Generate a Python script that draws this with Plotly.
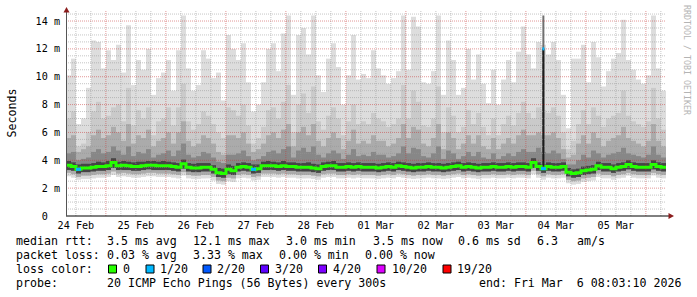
import pandas as pd
import plotly.graph_objects as go

# ---------------- data ----------------
START = pd.Timestamp("2026-02-24 08:03:10")
END = pd.Timestamp("2026-03-06 08:03:10")
BUCKET = pd.Timedelta(hours=2)

# slowest ping per 2-hour bucket (top of the lightest smoke), ms
rtt_max = [
    10.1, 11.3, 6.6, 7.0, 9.2, 12.6, 12.5, 10.6, 11.9, 11.2, 12.3, 10.3, 13.7, 9.4, 11.2, 10.5,
    12.0, 8.7, 9.9, 10.3, 11.2, 9.0, 11.9, 14.4, 10.6, 9.0, 9.4, 11.9, 11.3, 9.9, 10.3, 8.3,
    13.0, 12.0, 11.2, 12.4, 9.6, 7.5, 8.0, 9.6, 12.0, 12.4, 10.4, 13.1, 14.4, 8.7, 13.0, 13.5,
    11.6, 14.4, 10.1, 8.9, 11.3, 12.4, 10.7, 8.0, 10.1, 13.0, 9.8, 10.2, 9.9,
    11.9, 10.6, 10.1, 9.5, 9.9, 10.4, 14.4, 10.5, 14.3, 13.6, 9.6, 9.5, 10.4, 14.4, 8.7,
    12.6, 11.2, 8.7, 9.2, 12.0, 9.8, 11.6, 9.5, 8.1, 10.5, 8.0, 9.8, 11.2, 9.6, 11.8,
    13.6, 11.6, 10.6, 12.5, 12.3, 11.6, 12.5, 11.2, 8.7, 6.3, 11.3, 11.3, 12.3, 9.6, 12.5,
    11.4, 9.3, 10.4, 11.3, 11.7, 14.1, 11.2, 10.5, 9.8, 9.5, 10.1, 14.4, 10.6, 9.0,
]
# 19th of 20 pings
rtt_p19 = [
    7.0, 7.5, 5.0, 5.2, 6.0, 7.5, 8.2, 7.0, 7.2, 7.8, 8.0, 6.8, 9.2, 6.5, 7.6, 7.0,
    7.8, 5.8, 6.8, 7.0, 7.8, 6.5, 7.8, 9.5, 6.8, 6.2, 6.6, 7.5, 7.2, 6.6, 6.0, 5.6,
    7.8, 7.6, 7.2, 8.0, 6.5, 5.2, 5.6, 6.4, 7.6, 7.8, 7.0, 8.2, 9.4, 6.0, 8.0, 8.8,
    7.4, 9.3, 6.8, 6.2, 7.2, 7.8, 7.0, 5.8, 6.8, 8.0, 6.6, 6.8, 6.6,
    7.4, 7.0, 6.8, 6.4, 6.6, 7.0, 9.4, 7.0, 9.0, 8.2, 6.5, 6.4, 7.0, 9.3, 6.0,
    7.8, 7.2, 6.0, 6.4, 7.6, 6.6, 7.4, 6.4, 5.8, 7.0, 5.8, 6.6, 7.2, 6.5, 7.4,
    8.2, 7.4, 7.0, 7.8, 7.6, 7.4, 7.8, 7.2, 6.0, 4.8, 5.4, 6.6, 7.6, 6.6, 7.8,
    7.2, 6.4, 7.0, 7.2, 7.4, 9.0, 7.2, 6.8, 6.6, 6.4, 6.8, 9.2, 7.0, 6.2,
]
# 17th of 20 pings
rtt_p17 = [
    5.6, 5.8, 4.6, 4.8, 5.0, 5.8, 6.2, 5.6, 5.8, 6.4, 6.0, 5.4, 6.6, 5.2, 5.8, 5.6,
    6.2, 5.0, 5.4, 5.6, 6.0, 5.2, 6.0, 6.8, 5.4, 5.0, 5.2, 5.8, 5.6, 5.2, 4.6, 4.4,
    5.8, 5.8, 5.6, 6.0, 5.2, 4.6, 4.8, 5.2, 5.8, 6.0, 5.6, 6.2, 6.6, 5.0, 6.0, 6.4,
    5.8, 6.6, 5.4, 5.0, 5.6, 6.0, 5.6, 4.8, 5.4, 6.2, 5.2, 5.4, 5.2,
    5.8, 5.4, 5.4, 5.0, 5.2, 5.6, 6.6, 5.6, 6.4, 6.2, 5.2, 5.0, 5.6, 6.6, 4.8,
    6.0, 5.6, 4.8, 5.2, 5.8, 5.2, 5.8, 5.0, 4.8, 5.6, 4.8, 5.2, 5.6, 5.2, 5.8,
    6.2, 5.8, 5.8, 6.0, 5.8, 5.8, 6.0, 5.6, 4.8, 4.2, 4.4, 5.2, 5.8, 5.2, 6.0,
    5.6, 5.0, 5.4, 5.6, 5.8, 6.4, 5.6, 5.4, 5.2, 5.0, 5.4, 6.6, 5.4, 5.0,
]
# 15th of 20 pings
rtt_p15 = [
    4.5, 4.6, 4.0, 4.1, 4.2, 4.6, 4.8, 4.5, 4.6, 5.0, 4.7, 4.4, 5.0, 4.3, 4.6, 4.5,
    4.8, 4.2, 4.4, 4.5, 4.7, 4.3, 4.7, 5.2, 4.4, 4.2, 4.3, 4.6, 4.5, 4.2, 3.9, 3.8,
    4.4, 4.4, 4.5, 4.7, 4.3, 4.0, 4.1, 4.3, 4.6, 4.7, 4.5, 4.8, 5.0, 4.2, 4.7, 4.9,
    4.6, 5.0, 4.4, 4.2, 4.5, 4.7, 4.5, 4.1, 4.4, 4.8, 4.3, 4.4, 4.3,
    4.6, 4.4, 4.4, 4.2, 4.3, 4.5, 5.0, 4.5, 4.9, 4.8, 4.3, 4.2, 4.5, 5.0, 4.1,
    4.7, 4.5, 4.1, 4.3, 4.6, 4.3, 4.6, 4.2, 4.1, 4.5, 4.1, 4.3, 4.5, 4.3, 4.6,
    4.8, 4.6, 4.6, 4.9, 4.6, 4.5, 4.7, 4.5, 4.1, 3.7, 3.7, 4.0, 4.4, 4.2, 4.7,
    4.5, 4.2, 4.4, 4.5, 4.6, 4.9, 4.5, 4.4, 4.3, 4.2, 4.4, 5.0, 4.4, 4.2,
]
# 12th of 20 pings (top of the dark core)
rtt_p12 = [
    3.95, 3.85, 3.7, 3.75, 3.75, 3.8, 3.9, 3.85, 3.95, 4.15, 3.9, 3.95, 3.9, 3.85, 3.9, 3.9,
    3.95, 3.95, 3.9, 3.95, 3.9, 3.85, 3.8, 4.05, 3.8, 3.75, 3.8, 3.8, 3.8, 3.65, 3.45, 3.4,
    3.7, 3.6, 3.8, 3.85, 3.8, 3.7, 3.7, 3.9, 3.95, 3.9, 3.85, 3.95, 3.85, 3.85, 3.8, 3.8,
    3.85, 3.75, 3.7, 3.85, 3.9, 3.95, 3.8, 3.8, 3.85, 3.8, 3.85, 3.8, 3.8,
    3.8, 3.75, 3.8, 3.85, 3.8, 3.9, 3.85, 3.8, 3.75, 3.8, 3.8, 3.85, 3.8, 3.8, 3.75,
    3.8, 3.85, 3.9, 3.8, 3.85, 3.8, 3.75, 3.8, 3.8, 3.85, 3.8, 3.8, 3.85, 3.8, 3.85,
    3.85, 3.8, 4.15, 3.85, 3.7, 3.85, 3.8, 3.8, 3.85, 3.45, 3.35, 3.4, 3.55, 3.6, 3.65,
    3.9, 3.8, 3.8, 3.7, 3.8, 3.85, 4.0, 3.85, 3.8, 3.8, 3.8, 4.0, 3.85, 3.8,
]
# median of the 20 pings
rtt_median = [
    3.65, 3.55, 3.35, 3.45, 3.45, 3.5, 3.55, 3.55, 3.6, 3.85, 3.6, 3.65, 3.6, 3.55, 3.55, 3.6,
    3.65, 3.65, 3.6, 3.6, 3.6, 3.55, 3.5, 3.75, 3.5, 3.45, 3.45, 3.5, 3.5, 3.35, 3.1, 3.05,
    3.35, 3.25, 3.5, 3.55, 3.5, 3.35, 3.4, 3.6, 3.6, 3.6, 3.55, 3.6, 3.55, 3.55, 3.5, 3.5,
    3.5, 3.45, 3.4, 3.55, 3.6, 3.6, 3.5, 3.5, 3.55, 3.5, 3.55, 3.5, 3.5,
    3.5, 3.45, 3.5, 3.55, 3.5, 3.6, 3.55, 3.5, 3.45, 3.5, 3.5, 3.55, 3.5, 3.5, 3.45,
    3.5, 3.55, 3.6, 3.5, 3.55, 3.5, 3.45, 3.5, 3.5, 3.55, 3.5, 3.5, 3.55, 3.5, 3.55,
    3.55, 3.5, 3.85, 3.55, 3.4, 3.55, 3.5, 3.5, 3.55, 3.15, 3.05, 3.1, 3.25, 3.3, 3.35,
    3.6, 3.5, 3.5, 3.4, 3.5, 3.55, 3.7, 3.55, 3.5, 3.5, 3.5, 3.7, 3.55, 3.5,
]
# 8th of 20 pings (bottom of the dark core)
rtt_p8 = [
    3.3, 3.25, 3.05, 3.15, 3.15, 3.2, 3.25, 3.25, 3.3, 3.45, 3.3, 3.3, 3.3, 3.25, 3.25, 3.3,
    3.35, 3.3, 3.3, 3.3, 3.3, 3.25, 3.2, 3.4, 3.2, 3.15, 3.15, 3.2, 3.2, 3.05, 2.8, 2.75,
    3.0, 2.95, 3.2, 3.25, 3.2, 3.05, 3.1, 3.3, 3.3, 3.3, 3.25, 3.3, 3.25, 3.25, 3.2, 3.2,
    3.2, 3.15, 3.1, 3.25, 3.3, 3.3, 3.2, 3.2, 3.25, 3.2, 3.25, 3.2, 3.2,
    3.2, 3.15, 3.2, 3.25, 3.2, 3.3, 3.25, 3.2, 3.15, 3.2, 3.2, 3.25, 3.2, 3.2, 3.15,
    3.2, 3.25, 3.3, 3.2, 3.25, 3.2, 3.15, 3.2, 3.2, 3.25, 3.2, 3.2, 3.25, 3.2, 3.25,
    3.25, 3.2, 3.45, 3.25, 3.1, 3.25, 3.2, 3.2, 3.25, 2.85, 2.75, 2.8, 2.95, 3.0, 3.05,
    3.3, 3.2, 3.2, 3.1, 3.2, 3.25, 3.35, 3.25, 3.2, 3.2, 3.2, 3.35, 3.25, 3.2,
]
# 3rd of 20 pings
rtt_p3 = [
    3.1, 3.0, 2.8, 2.9, 2.9, 2.95, 3.0, 3.0, 3.05, 3.2, 3.05, 3.1, 3.05, 3.0, 3.0, 3.05,
    3.1, 3.1, 3.05, 3.05, 3.05, 3.0, 2.95, 3.15, 2.95, 2.9, 2.9, 2.95, 2.95, 2.8, 2.55, 2.5,
    2.75, 2.7, 2.95, 3.0, 2.95, 2.8, 2.85, 3.05, 3.05, 3.05, 3.0, 3.05, 3.0, 3.0, 2.95, 2.95,
    2.95, 2.9, 2.85, 3.0, 3.05, 3.05, 2.95, 2.95, 3.0, 2.95, 3.0, 2.95, 2.95,
    2.95, 2.9, 2.95, 3.0, 2.95, 3.05, 3.0, 2.95, 2.9, 2.95, 2.95, 3.0, 2.95, 2.95, 2.9,
    2.95, 3.0, 3.05, 2.95, 3.0, 2.95, 2.9, 2.95, 2.95, 3.0, 2.95, 2.95, 3.0, 2.95, 3.0,
    3.0, 2.95, 3.25, 3.0, 2.85, 3.0, 2.95, 2.95, 3.0, 2.6, 2.5, 2.55, 2.7, 2.75, 2.8,
    3.05, 2.95, 2.95, 2.85, 2.95, 3.0, 3.1, 3.0, 2.95, 2.95, 2.95, 3.1, 3.0, 2.95,
]
# fastest ping
rtt_min = [
    2.85, 2.75, 2.6, 2.65, 2.65, 2.7, 2.75, 2.75, 2.8, 2.95, 2.8, 2.85, 2.8, 2.75, 2.75, 2.8,
    2.85, 2.85, 2.8, 2.8, 2.8, 2.75, 2.7, 2.9, 2.7, 2.65, 2.65, 2.7, 2.7, 2.55, 2.3, 2.25,
    2.5, 2.45, 2.7, 2.75, 2.7, 2.55, 2.6, 2.8, 2.8, 2.8, 2.75, 2.8, 2.75, 2.75, 2.7, 2.7,
    2.7, 2.65, 2.6, 2.75, 2.8, 2.8, 2.7, 2.7, 2.75, 2.7, 2.75, 2.7, 2.7,
    2.7, 2.65, 2.7, 2.75, 2.7, 2.8, 2.75, 2.7, 2.65, 2.7, 2.7, 2.75, 2.7, 2.7, 2.65,
    2.7, 2.75, 2.8, 2.7, 2.75, 2.7, 2.65, 2.7, 2.7, 2.75, 2.7, 2.7, 2.75, 2.7, 2.75,
    2.75, 2.7, 3.0, 2.75, 2.6, 2.75, 2.7, 2.7, 2.75, 2.35, 2.25, 2.3, 2.45, 2.5, 2.55,
    2.8, 2.7, 2.7, 2.6, 2.7, 2.75, 2.9, 2.75, 2.7, 2.7, 2.7, 2.9, 2.75, 2.7,
]
# buckets with lost pings (bucket index -> pings lost out of 20)
lost_pings = {2: 1, 37: 1, 95: 1}

# short spike on 4 Mar
spike_time = ["2026-03-04 07:00"]
spike_low = [3.6]
spike_median = [12.0]
spike_high = [14.4]
spike_lost = [1]

# legend / statistics
median_avg, median_max, median_min, median_now, median_sd, am_per_s = 3.5, 12.1, 3.0, 3.5, 0.6, 6.3
loss_avg, loss_max, loss_min, loss_now = 0.03, 3.33, 0.00, 0.00
loss_labels = ["0", "1/20", "2/20", "3/20", "4/20", "10/20", "19/20"]
loss_colors = ["#26ff00", "#00b8ff", "#0059ff", "#5e00ff", "#7e00ff", "#dd00ff", "#ff0000"]
loss_counts = [0, 1, 2, 3, 4, 10, 19]

y_ticks = [0, 2, 4, 6, 8, 10, 12, 14]
y_tick_text = ["0\u00a0\u00a0", "2\u00a0m", "4\u00a0m", "6\u00a0m", "8\u00a0m", "10\u00a0m", "12\u00a0m", "14\u00a0m"]
day_labels = ["24 Feb", "25 Feb", "26 Feb", "27 Feb", "28 Feb", "01 Mar", "02 Mar", "03 Mar", "04 Mar", "05 Mar"]

# ---------------- geometry helpers ----------------
W, H = 697, 297
ML, MR, MT, MB = 66, 31, 11, 81
PW, PH = W - ML - MR, H - MT - MB
YMAX = 14.72
MONO = "DejaVu Sans Mono"


def px(x):
    return (x - ML) / PW


def py(y):
    return (MT + PH - y) / PH


n = len(rtt_median)
bucket_start = [START + i * BUCKET for i in range(n)]
bucket_mid = [t + BUCKET / 2 for t in bucket_start]
bucket_edges = bucket_start + [START + n * BUCKET]
bucket_ms = BUCKET / pd.Timedelta(milliseconds=1)

fig = go.Figure()

bands = [
    (rtt_min, rtt_max, "#dddddd"),
    (rtt_p3, rtt_p19, "#cacaca"),
    (rtt_p3, rtt_p17, "#ababab"),
    (rtt_p8, rtt_p15, "#878787"),
    (rtt_p8, rtt_p12, "#454545"),
]
for lo, hi, col in bands:
    fig.add_trace(go.Bar(
        x=bucket_mid, y=[h - l for l, h in zip(lo, hi)], base=lo, width=bucket_ms,
        marker=dict(color=col, line=dict(width=0)), hoverinfo="skip"))

# spike smoke
spike_t = [pd.Timestamp(t) for t in spike_time]
spike_w = pd.Timedelta(minutes=48) / pd.Timedelta(milliseconds=1)
fig.add_trace(go.Bar(x=spike_t, y=[h - l for l, h in zip(spike_low, spike_high)], base=spike_low,
                     width=spike_w, marker=dict(color="#707070", line=dict(width=0)), hoverinfo="skip"))
fig.add_trace(go.Bar(x=spike_t, y=[m - l for l, m in zip(spike_low, spike_median)], base=spike_low,
                     width=spike_w, marker=dict(color="#1c1c1c", line=dict(width=0)), hoverinfo="skip"))

# grid (drawn above the smoke, as rrdtool does)
grid_times = pd.date_range("2026-02-24 12:00", END, freq="6h")
vmin_x, vmin_y, vmaj_x, vmaj_y = [], [], [], []
for t in grid_times:
    if t.hour == 0:
        vmaj_x += [t, t, None]; vmaj_y += [0, YMAX, None]
    else:
        vmin_x += [t, t, None]; vmin_y += [0, YMAX, None]
hmin_x, hmin_y, hmaj_x, hmaj_y = [], [], [], []
for k in range(1, 30):
    v = k * 0.5
    if k % 4 == 0:
        hmaj_x += [START, END, None]; hmaj_y += [v, v, None]
    else:
        hmin_x += [START, END, None]; hmin_y += [v, v, None]
for gx, gy, gc in [(vmin_x, vmin_y, "rgba(150,150,150,0.55)"), (hmin_x, hmin_y, "rgba(150,150,150,0.55)"),
                   (vmaj_x, vmaj_y, "rgba(200,50,50,0.5)"), (hmaj_x, hmaj_y, "rgba(200,50,50,0.5)")]:
    fig.add_trace(go.Scatter(x=gx, y=gy, mode="lines", line=dict(color=gc, width=1, dash="1px,1px"),
                             hoverinfo="skip"))

# median line
fig.add_trace(go.Scatter(x=bucket_edges, y=rtt_median + [rtt_median[-1]], mode="lines",
                         line=dict(color=loss_colors[0], width=3, shape="hv"), hoverinfo="skip"))
for i, lost in lost_pings.items():
    col = loss_colors[loss_counts.index(lost)]
    fig.add_trace(go.Scatter(x=[bucket_edges[i], bucket_edges[i + 1]], y=[rtt_median[i]] * 2, mode="lines",
                             line=dict(color=col, width=3), hoverinfo="skip"))
for t, m, lost in zip(spike_t, spike_median, spike_lost):
    half = pd.Timedelta(minutes=24)
    fig.add_trace(go.Scatter(x=[t - half, t + half], y=[m, m], mode="lines",
                             line=dict(color=loss_colors[loss_counts.index(lost)], width=3), hoverinfo="skip"))

day_noons = [pd.Timestamp("2026-02-24 12:00") + pd.Timedelta(days=k) for k in range(len(day_labels))]

fig.update_layout(
    width=W, height=H, margin=dict(l=ML, r=MR, t=MT, b=MB),
    paper_bgcolor="white", plot_bgcolor="white", barmode="overlay", showlegend=False,
    font=dict(family=MONO, color="black"),
)
fig.update_xaxes(type="date", range=[START, END], showgrid=False, zeroline=False, showline=False,
                 ticks="", tickvals=day_noons, ticktext=day_labels,
                 tickfont=dict(family=MONO, size=10.15, color="black"), ticklabelstandoff=2)
fig.update_yaxes(range=[0, YMAX], showgrid=False, zeroline=False, showline=False, ticks="",
                 tickvals=y_ticks, ticktext=y_tick_text,
                 tickfont=dict(family=MONO, size=10.15, color="black"), ticklabelstandoff=5)

shapes = []
# axes
shapes.append(dict(type="line", xref="paper", yref="paper", x0=px(66), x1=px(669), y0=py(216), y1=py(216),
                   line=dict(color="black", width=1)))
shapes.append(dict(type="line", xref="paper", yref="paper", x0=px(66.5), x1=px(66.5), y0=py(216), y1=py(10),
                   line=dict(color="#555555", width=1)))
# arrows
shapes.append(dict(type="path", xref="paper", yref="paper",
                   path=f"M {px(66.5)} {py(7)} L {px(63.5)} {py(12.5)} L {px(69.5)} {py(12.5)} Z",
                   fillcolor="#8b1c1c", line=dict(width=0)))
shapes.append(dict(type="path", xref="paper", yref="paper",
                   path=f"M {px(674)} {py(216)} L {px(668.5)} {py(213)} L {px(668.5)} {py(219)} Z",
                   fillcolor="#8b1c1c", line=dict(width=0)))

annotations = []


def text_at(x, y, s, size=11.6, color="black", angle=0, xanchor="left"):
    annotations.append(dict(xref="paper", yref="paper", x=px(x), y=py(y), text=s.replace(" ", "\u00a0"),
                            showarrow=False, xanchor=xanchor, yanchor="middle", textangle=angle,
                            borderpad=0, borderwidth=0,
                            font=dict(family=MONO, size=size, color=color)))


LINE_Y = [240.5, 255.0, 268.8, 283.2]
text_at(16, LINE_Y[0], "median rtt:")
text_at(107, LINE_Y[0], f"{median_avg:.1f} ms avg")
text_at(193, LINE_Y[0], f"{median_max:.1f} ms max")
text_at(286, LINE_Y[0], f"{median_min:.1f} ms min")
text_at(373, LINE_Y[0], f"{median_now:.1f} ms now")
text_at(458, LINE_Y[0], f"{median_sd:.1f} ms sd")
text_at(537, LINE_Y[0], f"{am_per_s:.1f}")
text_at(577, LINE_Y[0], "am/s")
text_at(16, LINE_Y[1], "packet loss:")
text_at(107, LINE_Y[1], f"{loss_avg:.2f} % avg")
text_at(193, LINE_Y[1], f"{loss_max:.2f} % max")
text_at(279, LINE_Y[1], f"{loss_min:.2f} % min")
text_at(365, LINE_Y[1], f"{loss_now:.2f} % now")
text_at(16, LINE_Y[2], "loss color:")
sq_x = [108.5, 146, 203, 260.5, 318.5, 377, 443]
lab_x = [123, 160, 217, 274.5, 332.5, 391.5, 457]
for sx, lx, lab, col in zip(sq_x, lab_x, loss_labels, loss_colors):
    shapes.append(dict(type="rect", xref="paper", yref="paper", x0=px(sx), x1=px(sx + 8), y0=py(273), y1=py(265),
                       fillcolor=col, line=dict(color="black", width=1)))
    text_at(lx, LINE_Y[2], lab)
text_at(16, LINE_Y[3], "probe:")
text_at(107, LINE_Y[3], "20 ICMP Echo Pings (56 Bytes) every 300s")
text_at(478.5, LINE_Y[3], "end: Fri Mar  6 08:03:10 2026")

# axis title and watermark
text_at(11, 113.5, "Seconds", angle=-90, xanchor="center")
text_at(687, 60, "RRDTOOL / TOBI OETIKER", size=8.3, color="#b4b4b4", angle=90, xanchor="center")

fig.update_layout(shapes=shapes, annotations=annotations)
fig.write_html("out.html")
